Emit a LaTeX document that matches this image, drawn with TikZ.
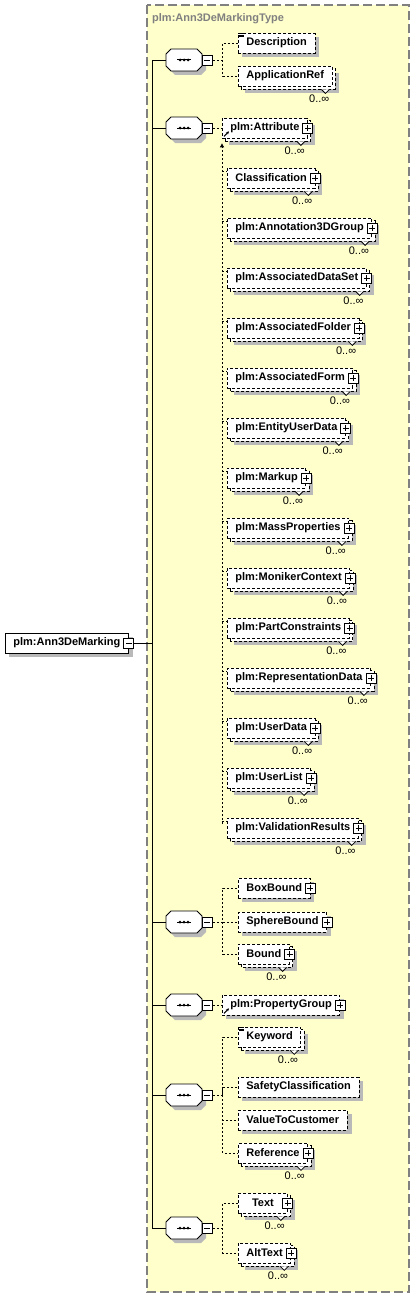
\documentclass[tikz,border=0pt]{standalone}
\usepackage{fontspec}
\setmainfont{Liberation Sans}
\usetikzlibrary{arrows.meta,positioning,calc}
\usepackage{xcolor}

\definecolor{typefill}{RGB}{255,255,204}
\definecolor{typeline}{RGB}{128,128,128}
\definecolor{shgray}{RGB}{185,185,185}

\pgfdeclarelayer{shade}
\pgfsetlayers{shade,main}

\tikzset{
  elfont/.style={font=\fontsize{11pt}{13pt}\selectfont\bfseries},
  elem/.style={elfont, draw, fill=white, line width=0.8pt, dash pattern=on 3pt off 2pt,
    minimum height=20pt, minimum width=49pt, inner xsep=8pt, inner ysep=0pt, anchor=west},
  backbox/.style={draw, fill=white, line width=0.8pt, dash pattern=on 3pt off 2pt},
  minbox/.style={draw, fill=white, solid, line width=0.8pt, minimum size=10pt, inner sep=0pt,
    path picture={\draw[line width=0.8pt] ([xshift=2pt]path picture bounding box.west)
      -- ([xshift=-2pt]path picture bounding box.east);}},
  expbox/.style={minbox, path picture={\draw[line width=0.8pt]
      ([xshift=2pt]path picture bounding box.west) -- ([xshift=-2pt]path picture bounding box.east)
      ([yshift=-2pt]path picture bounding box.north) -- ([yshift=2pt]path picture bounding box.south);}},
  seqbox/.style={minimum width=36pt, minimum height=22pt, inner sep=0pt, outer sep=0pt},
  octline/.style={draw, fill=white, line width=0.8pt},
  occ/.style={font=\fontsize{11pt}{13pt}\selectfont, inner sep=0pt, anchor=north east},
  typelabel/.style={elfont, text=typeline, inner sep=0pt, anchor=west},
  typeframe/.style={draw=typeline, fill=typefill, line width=1.5pt, dash pattern=on 9pt off 4pt},
  conn/.style={line width=0.9pt},
  dconn/.style={line width=0.9pt, dash pattern=on 2pt off 2pt},
  refarrow/.style={line width=1pt, -{Stealth[length=3pt,width=3pt]}},
  sh4/.style={transform canvas={shift={(4pt,-4pt)}}}
}

%% shadows and stacked boxes go on the shade layer
\newcommand{\oneshade}[1]{\begin{pgfonlayer}{shade}
  \fill[shgray] ($(#1.south west)+(4pt,-4pt)$) rectangle ($(#1.north east)+(4pt,-4pt)$);
  \end{pgfonlayer}}
\newcommand{\manyshade}[1]{\begin{pgfonlayer}{shade}
  \fill[shgray] ($(#1.south west)+(7pt,-7pt)$) rectangle ($(#1.north east)+(7pt,-7pt)$);
  \draw[backbox] ($(#1.south west)+(3pt,-3pt)$) rectangle ($(#1.north east)+(3pt,-3pt)$);
  \end{pgfonlayer}}
\newcommand{\occmark}[1]{%
  \draw[line width=0.8pt, fill=white] ([xshift=-11pt,yshift=-3pt]#1.south east)
    -- ([xshift=-7pt,yshift=-7pt]#1.south east) -- ([xshift=-3pt,yshift=-3pt]#1.south east);
  \node[occ] (#1o) at ([xshift=-3pt,yshift=-8pt]#1.south east) {0..∞};}
\newcommand{\expnode}[1]{\node[expbox] (#1x) at (#1.east) {};}
\newcommand{\refmark}[1]{\draw[refarrow] ([shift={(2pt,2pt)}]#1.south west) -- ++(5pt,5pt);}
\newcommand{\annot}[1]{\foreach \ay in {1,2.5,4}
  \draw[line width=0.5pt] ([shift={(1pt,-\ay pt)}]#1.north west) -- ++(5pt,0pt);}
\newcommand{\seqshape}[1]{%
  \begin{pgfonlayer}{shade}
  \begin{scope}[sh4]
  \fill[shgray] ([xshift=5pt]#1.north west) -- ([xshift=-5pt]#1.north east)
    -- ([yshift=-5pt]#1.north east) -- ([yshift=5pt]#1.south east)
    -- ([xshift=-5pt]#1.south east) -- ([xshift=5pt]#1.south west)
    -- ([yshift=5pt]#1.south west) -- ([yshift=-5pt]#1.north west) -- cycle;
  \end{scope}
  \end{pgfonlayer}
  \draw[octline] ([xshift=5pt]#1.north west) -- ([xshift=-5pt]#1.north east)
    -- ([yshift=-5pt]#1.north east) -- ([yshift=5pt]#1.south east)
    -- ([xshift=-5pt]#1.south east) -- ([xshift=5pt]#1.south west)
    -- ([yshift=5pt]#1.south west) -- ([yshift=-5pt]#1.north west) -- cycle;
  \draw[line width=1pt] ([xshift=-7pt]#1.center) -- ([xshift=7pt]#1.center);
  \foreach \dx in {-4,0,4} \fill ([xshift=\dx pt]#1.center) circle (1.5pt);}

\begin{document}
\begin{tikzpicture}[x=1pt, y=-1pt]
  \useasboundingbox (0,0) rectangle (415,1298);
  %% ── Complex type frame ────────────────────────────────────
  \begin{pgfonlayer}{shade}
    \draw[typeframe] (147,5) rectangle (409,1292);
  \end{pgfonlayer}
  \node[typelabel] (tlabel) at (152,19) {plm:Ann3DeMarkingType};

  %% ── Root element ──────────────────────────────────────────
  \node[elem, solid] (root) at (5,643) {plm:Ann3DeMarking\hspace{6pt}};
  \oneshade{root}
  \node[minbox] (rootx) at (root.east) {};
  \coordinate (sp) at (152,643);
  \draw[conn] (rootx.east) -- (sp);

  %% ── Sequence compositors ──────────────────────────────────
  \node[seqbox] (sq1) at (184,60) {};
  \node[seqbox] (sq2) at (184,128) {};
  \node[seqbox] (sq3) at (184,922) {};
  \node[seqbox] (sq4) at (184,1005) {};
  \node[seqbox] (sq5) at (184,1095) {};
  \node[seqbox] (sq6) at (184,1228) {};
  \foreach \k in {1,...,6} {
    \draw[conn] (sp) |- (sq\k.west);
    \seqshape{sq\k}
    \node[minbox, anchor=west] (sq\k-x) at (sq\k.east) {};
    \coordinate (j\k) at ([xshift=10pt]sq\k-x.east);
  }

  %% ── Sequence 1 ────────────────────────────────────────────
  \node[elem] (desc) at (238,43) {Description};
  \oneshade{desc}
  \annot{desc}
  \node[elem] (appref) at (238,76) {ApplicationRef};
  \manyshade{appref}
  \occmark{appref}
  \draw[dconn] (sq1-x.east) -- (j1) |- (desc.west) (j1) |- (appref.west);

  %% ── Sequence 2: plm:Attribute and its substitutes ─────────
  \node[elem] (att) at (222,128) {plm:Attribute\hspace{6pt}};
  \manyshade{att}
  \expnode{att}
  \occmark{att}
  \refmark{att}
  \draw[dconn] (sq2-x.east) -- (att.west);
  \coordinate (subend) at (222,824);
  \draw[dconn, -{Triangle[length=4pt,width=4pt]}] (subend) -- ([yshift=-5pt]att.south west);
  \foreach \nm [count=\i] in {Classification, plm:Annotation3DGroup, plm:AssociatedDataSet,
      plm:AssociatedFolder, plm:AssociatedForm, plm:EntityUserData, plm:Markup,
      plm:MassProperties, plm:MonikerContext, plm:PartConstraints,
      plm:RepresentationData, plm:UserData, plm:UserList, plm:ValidationResults} {
    \node[elem] (m\i) at (227,{128+50*\i}) {\nm\hspace{6pt}};
    \manyshade{m\i}
    \expnode{m\i}
    \occmark{m\i}
    \draw[dconn] ([xshift=-5pt,yshift=-4pt]m\i.north west) -- ([yshift=-4pt]m\i.north west);
  }

  %% ── Sequence 3: bounds ────────────────────────────────────
  \node[elem] (boxb) at (238,888) {BoxBound\hspace{6pt}};
  \oneshade{boxb}
  \expnode{boxb}
  \node[elem] (sphb) at (238,922) {SphereBound\hspace{6pt}};
  \oneshade{sphb}
  \expnode{sphb}
  \node[elem] (bnd) at (238,954) {Bound\hspace{6pt}};
  \manyshade{bnd}
  \expnode{bnd}
  \occmark{bnd}
  \draw[dconn] (sq3-x.east) -- (j3) |- (boxb.west) (j3) |- (sphb.west) (j3) |- (bnd.west);

  %% ── Sequence 4: property group ────────────────────────────
  \node[elem] (pgrp) at (222,1005) {plm:PropertyGroup\hspace{6pt}};
  \oneshade{pgrp}
  \expnode{pgrp}
  \refmark{pgrp}
  \draw[dconn] (sq4-x.east) -- (pgrp.west);

  %% ── Sequence 5 ────────────────────────────────────────────
  \node[elem] (kwd) at (238,1037) {Keyword};
  \manyshade{kwd}
  \annot{kwd}
  \occmark{kwd}
  \node[elem] (safe) at (238,1087) {SafetyClassification};
  \oneshade{safe}
  \node[elem] (vcust) at (238,1120) {ValueToCustomer};
  \oneshade{vcust}
  \node[elem] (refr) at (238,1153) {Reference\hspace{6pt}};
  \manyshade{refr}
  \expnode{refr}
  \occmark{refr}
  \draw[dconn] (sq5-x.east) -- (j5) |- (kwd.west) (j5) |- (safe.west)
    (j5) |- (vcust.west) (j5) |- (refr.west);

  %% ── Sequence 6: texts ─────────────────────────────────────
  \node[elem] (txt) at (238,1203) {Text\hspace{6pt}};
  \manyshade{txt}
  \expnode{txt}
  \occmark{txt}
  \node[elem] (alt) at (238,1253) {AltText\hspace{6pt}};
  \manyshade{alt}
  \expnode{alt}
  \occmark{alt}
  \draw[dconn] (sq6-x.east) -- (j6) |- (txt.west) (j6) |- (alt.west);
\end{tikzpicture}
\end{document}
